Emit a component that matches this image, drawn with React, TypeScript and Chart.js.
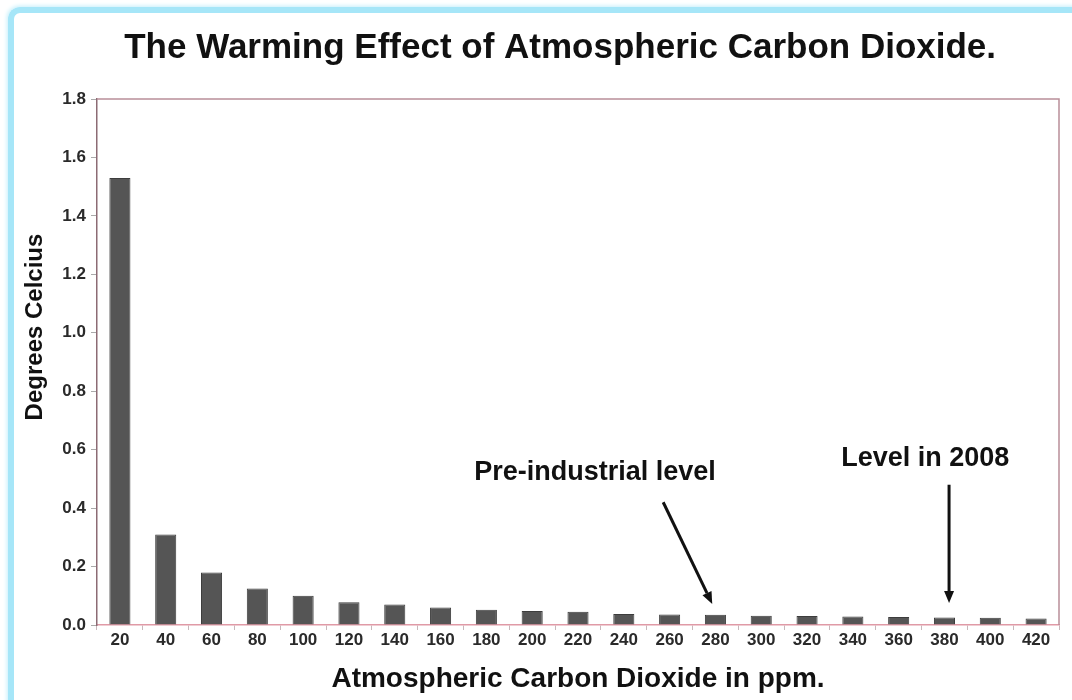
import React, { useEffect, useRef } from 'react';
import { Chart, registerables } from 'chart.js';

Chart.register(...registerables);

const chartTitle = 'The Warming Effect of Atmospheric Carbon Dioxide.';
const xAxisTitle = 'Atmospheric Carbon Dioxide in ppm.';
const yAxisTitle = 'Degrees Celcius';

const categories = ['20', '40', '60', '80', '100', '120', '140', '160', '180', '200', '220', '240', '260', '280', '300', '320', '340', '360', '380', '400', '420'];
const warming = [1.53, 0.31, 0.18, 0.125, 0.1, 0.078, 0.07, 0.06, 0.052, 0.048, 0.045, 0.038, 0.036, 0.035, 0.032, 0.031, 0.029, 0.027, 0.026, 0.025, 0.022];
const yTickValues = [0, 0.2, 0.4, 0.6, 0.8, 1.0, 1.2, 1.4, 1.6, 1.8];

// annotations (x in category index units, y in degrees)
const annotationLabels = ['Pre-industrial level', 'Level in 2008'];
const annotationTextX = [10.37, 17.58];
const annotationTextY = [0.52, 0.57];
const arrowStartX = [11.86, 18.1];
const arrowStartY = [0.42, 0.48];
const arrowEndX = [12.93, 18.1];
const arrowEndY = [0.072, 0.075];

const FONT = '"Liberation Sans", Arial, Helvetica, sans-serif';

const overlayPlugin = {
  id: 'overlay',
  afterDraw(chart: any) {
    const { ctx, chartArea, scales } = chart;
    const xs = scales.x;
    const ys = scales.y;
    ctx.save();
    // plot frame top & right
    ctx.strokeStyle = '#b98f99';
    ctx.lineWidth = 1.5;
    ctx.beginPath();
    ctx.moveTo(chartArea.left, chartArea.top);
    ctx.lineTo(chartArea.right, chartArea.top);
    ctx.lineTo(chartArea.right, chartArea.bottom);
    ctx.stroke();

    // chart title
    ctx.fillStyle = '#111';
    ctx.textAlign = 'center';
    ctx.textBaseline = 'middle';
    ctx.font = `bold 35px ${FONT}`;
    ctx.fillText(chartTitle, chart.width * 0.5225, 48);

    // y axis title
    ctx.save();
    ctx.translate(35, (chartArea.top + chartArea.bottom) / 2 - 35);
    ctx.rotate(-Math.PI / 2);
    ctx.font = `bold 24px ${FONT}`;
    ctx.fillText(yAxisTitle, 0, 0);
    ctx.restore();

    // annotations
    ctx.font = `bold 27px ${FONT}`;
    for (let i = 0; i < annotationLabels.length; i++) {
      ctx.fillStyle = '#111';
      ctx.fillText(annotationLabels[i], xs.getPixelForValue(annotationTextX[i]), ys.getPixelForValue(annotationTextY[i]));
      const x1 = xs.getPixelForValue(arrowStartX[i]);
      const y1 = ys.getPixelForValue(arrowStartY[i]);
      const x2 = xs.getPixelForValue(arrowEndX[i]);
      const y2 = ys.getPixelForValue(arrowEndY[i]);
      const ang = Math.atan2(y2 - y1, x2 - x1);
      const head = 12;
      const bx = x2 - head * Math.cos(ang);
      const by = y2 - head * Math.sin(ang);
      ctx.strokeStyle = '#111';
      ctx.lineWidth = 3;
      ctx.beginPath();
      ctx.moveTo(x1, y1);
      ctx.lineTo(bx, by);
      ctx.stroke();
      ctx.beginPath();
      ctx.moveTo(x2, y2);
      ctx.lineTo(bx + 5 * Math.sin(ang), by - 5 * Math.cos(ang));
      ctx.lineTo(bx - 5 * Math.sin(ang), by + 5 * Math.cos(ang));
      ctx.closePath();
      ctx.fillStyle = '#111';
      ctx.fill();
    }
    ctx.restore();
  },
};

export default function App() {
  const canvasRef = useRef<HTMLCanvasElement | null>(null);

  useEffect(() => {
    if (!canvasRef.current) return;
    const chart = new Chart(canvasRef.current, {
      type: 'bar',
      data: {
        labels: categories,
        datasets: [
          {
            data: warming,
            backgroundColor: '#555555',
            borderColor: '#3d3d3d',
            borderWidth: 1,
            barPercentage: 0.46,
            categoryPercentage: 1,
          },
        ],
      },
      options: {
        animation: false,
        responsive: false,
        maintainAspectRatio: false,
        layout: { padding: { left: 0, right: 13, top: 99, bottom: 0 } },
        plugins: {
          legend: { display: false },
          tooltip: { enabled: false },
          title: { display: false },
        },
        scales: {
          x: {
            type: 'category',
            offset: true,
            grid: { display: true, drawOnChartArea: false, drawTicks: true, tickLength: 5, color: '#c8b8bc', offset: true },
            border: { color: '#e09aa6', width: 1.5 },
            ticks: { font: { family: FONT, size: 17, weight: 'bold' }, color: '#2a2a2a', padding: 0, maxRotation: 0, autoSkip: false },
            title: { display: true, text: xAxisTitle, font: { family: FONT, size: 28, weight: 'bold' }, color: '#111', padding: { top: 4, bottom: 4 } },
            afterFit: (s: any) => { s.height = 75; },
          },
          y: {
            min: 0,
            max: 1.8,
            afterBuildTicks: (s: any) => { s.ticks = yTickValues.map((v) => ({ value: v })); },
            ticks: { font: { family: FONT, size: 17, weight: 'bold' }, color: '#2a2a2a', padding: 5, callback: (v: any) => Number(v).toFixed(1) },
            grid: { display: true, drawOnChartArea: false, drawTicks: true, tickLength: 6, color: '#aaa' },
            border: { color: '#8c6b74', width: 1.5 },
            afterFit: (s: any) => { s.width = 97; },
          },
        },
      },
      plugins: [overlayPlugin],
    });
    return () => chart.destroy();
  }, []);

  return (
    <div style={{ position: 'absolute', left: 0, top: 0, width: 1072, height: 700, background: '#fff', overflow: 'hidden' }}>
      <div
        style={{
          position: 'absolute',
          left: 8,
          top: 7,
          width: 1200,
          height: 900,
          borderLeft: '6px solid #a6e6f8',
          borderTop: '6px solid #a6e6f8',
          borderTopLeftRadius: 12,
          boxShadow: '-1px -1px 4px #c4effb',
        }}
      />
      <canvas ref={canvasRef} width={1072} height={700} style={{ position: 'absolute', left: 0, top: 0 }} />
    </div>
  );
}
